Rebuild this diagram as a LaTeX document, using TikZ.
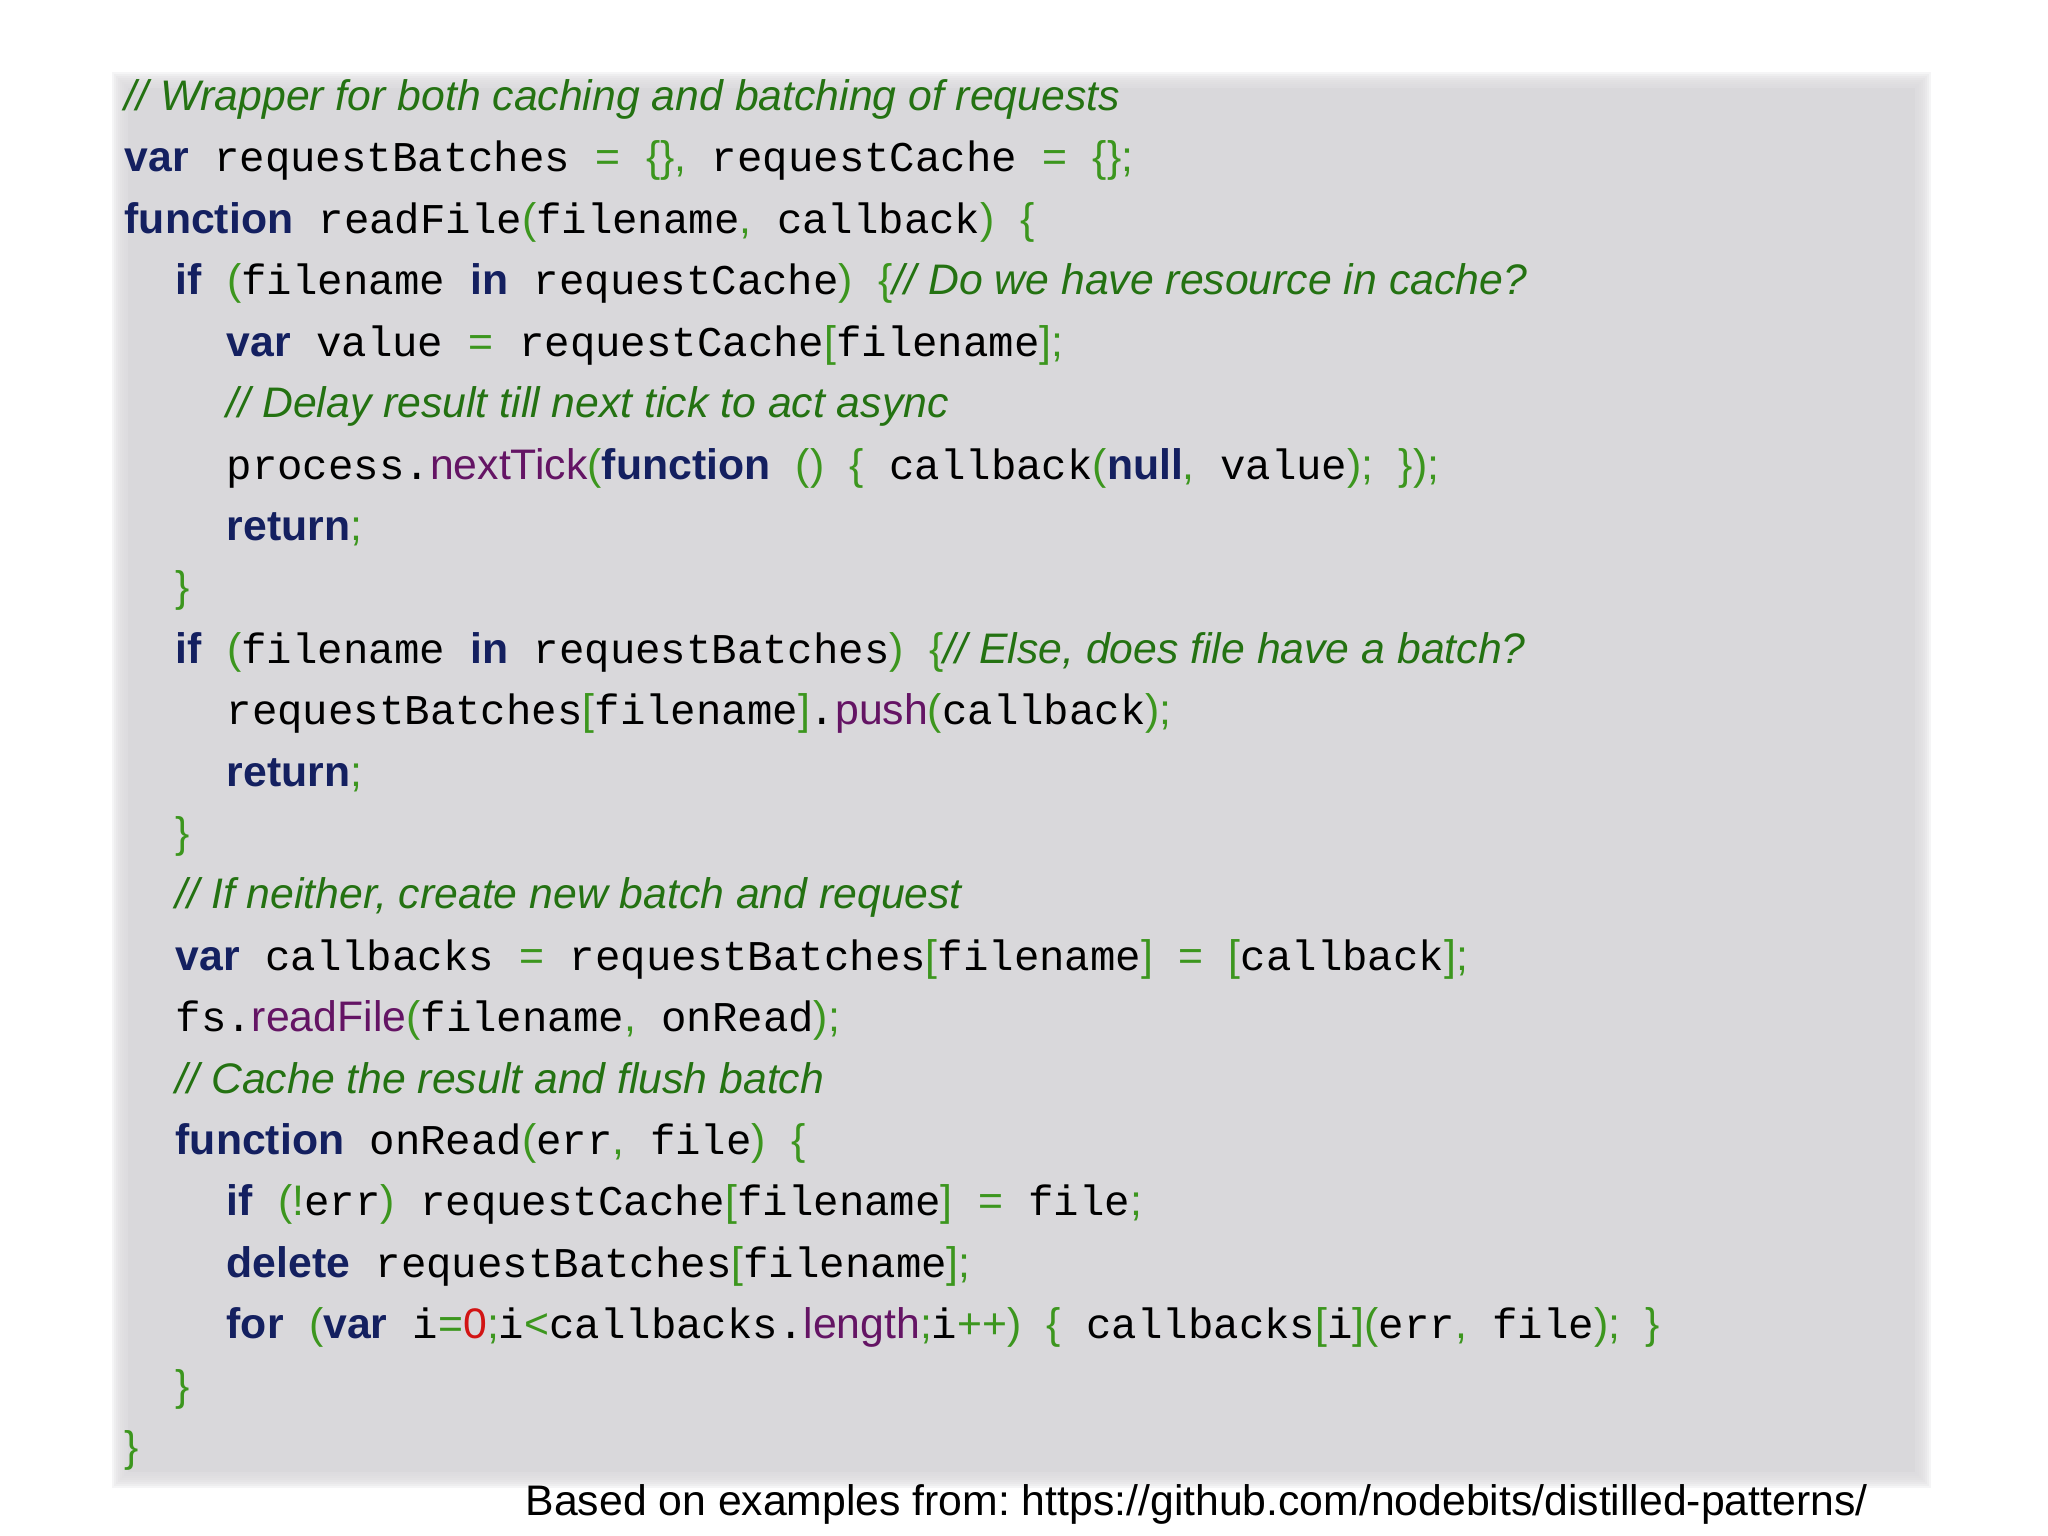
\documentclass[tikz,border=0pt]{standalone}
\usepackage{fontspec}
\setmainfont{Liberation Sans}
\setsansfont{Liberation Sans}
\setmonofont{Liberation Mono}
\usepackage{xcolor}
\usepackage{tikz}
\definecolor{kwblue}{RGB}{20,32,96}
\definecolor{pgreen}{RGB}{60,150,30}
\definecolor{cgreen}{RGB}{36,114,18}
\definecolor{fpurple}{RGB}{100,20,100}
\definecolor{nred}{RGB}{210,20,20}
\definecolor{boxgray}{RGB}{217,216,219}
\newcommand\sfsize{\fontsize{12.15}{14}\selectfont\sffamily}
\newcommand\kw[1]{{\sfsize\bfseries\color{kwblue}#1}}
\newcommand\pu[1]{{\sfsize\color{pgreen}#1}}
\newcommand\cmt[1]{{\sfsize\itshape\color{cgreen}#1}}
\newcommand\fn[1]{{\sfsize\color{fpurple}#1}}
\newcommand\nm[1]{{\sfsize\color{nred}#1}}
\frenchspacing
\tikzset{
  codeline/.style={anchor=base west,inner sep=0pt,
    font=\fontsize{12.05}{14}\selectfont\ttfamily},
  footer/.style={anchor=base west,inner sep=0pt,font=\sfsize},
  codebox/.style={fill=boxgray,draw=none}
}
\begin{document}
\begin{tikzpicture}[x=0.01cm,y=-0.01cm]
  \useasboundingbox (0,0) rectangle (2048,1536);
  % soft edge of the box
  \foreach \d in {16,14,...,2}
    \fill[boxgray,opacity=0.25] (128-\d,88-\d) rectangle (1915+\d,1472+\d);
  \fill[codebox] (128,88) rectangle (1915,1472);

  \node[codeline] (wrapcmt) at (124,110) {\cmt{// Wrapper for both caching and batching of requests}};
  \node[codeline] (batchvar) at (124,171) {\kw{var} requestBatches \pu{=} \pu{\{\},} requestCache \pu{=} \pu{\{\};}};
  \node[codeline] (readfn) at (124,233) {\kw{function} readFile\pu{(}filename\pu{,} callback\pu{)} \pu{\{}};
  \node[codeline] (ifcache) at (175,294) {\kw{if} \pu{(}filename \kw{in} requestCache\pu{)} \pu{\{}\cmt{ // Do we have resource in cache?}};
  \node[codeline] (cacheval) at (226,356) {\kw{var} value \pu{=} requestCache\pu{[}filename\pu{];}};
  \node[codeline] (delaycmt) at (226,417) {\cmt{// Delay result till next tick to act async}};
  \node[codeline] (nexttick) at (226,479) {process.\fn{nextTick}\pu{(}\kw{function} \pu{()} \pu{\{} callback\pu{(}\kw{null}\pu{,} value\pu{);} \pu{\});}};
  \node[codeline] (ret1) at (226,540) {\kw{return}\pu{;}};
  \node[codeline] (close1) at (175,601) {\pu{\}}};
  \node[codeline] (ifbatch) at (175,663) {\kw{if} \pu{(}filename \kw{in} requestBatches\pu{)} \pu{\{}\cmt{// Else, does file have a batch?}};
  \node[codeline] (pushcb) at (226,724) {requestBatches\pu{[}filename\pu{]}.\fn{push}\pu{(}callback\pu{);}};
  \node[codeline] (ret2) at (226,786) {\kw{return}\pu{;}};
  \node[codeline] (close2) at (175,847) {\pu{\}}};
  \node[codeline] (neithercmt) at (175,908) {\cmt{// If neither, create new batch and request}};
  \node[codeline] (cbvar) at (175,970) {\kw{var} callbacks \pu{=} requestBatches\pu{[}filename\pu{]} \pu{=} \pu{[}callback\pu{];}};
  \node[codeline] (fsread) at (175,1031) {fs.\fn{readFile}\pu{(}filename\pu{,} onRead\pu{);}};
  \node[codeline] (cachecmt) at (175,1093) {\cmt{// Cache the result and flush batch}};
  \node[codeline] (onread) at (175,1154) {\kw{function} onRead\pu{(}err\pu{,} file\pu{)} \pu{\{}};
  \node[codeline] (ifnoerr) at (226,1215) {\kw{if} \pu{(!}err\pu{)} requestCache\pu{[}filename\pu{]} \pu{=} file\pu{;}};
  \node[codeline] (delbatch) at (226,1277) {\kw{delete} requestBatches\pu{[}filename\pu{];}};
  \node[codeline] (forloop) at (226,1338) {\kw{for} \pu{(}\kw{var} i\pu{=}\nm{0}\pu{;}i\pu{<}callbacks.\fn{length}\pu{;}i\pu{++)} \pu{\{} callbacks\pu{[}i\pu{](}err\pu{,} file\pu{);} \pu{\}}};
  \node[codeline] (close3) at (175,1400) {\pu{\}}};
  \node[codeline] (close4) at (124,1461) {\pu{\}}};

  \node[footer] (source) at (525,1515) {Based on examples from: https://github.com/nodebits/distilled-patterns/};
\end{tikzpicture}
\end{document}
